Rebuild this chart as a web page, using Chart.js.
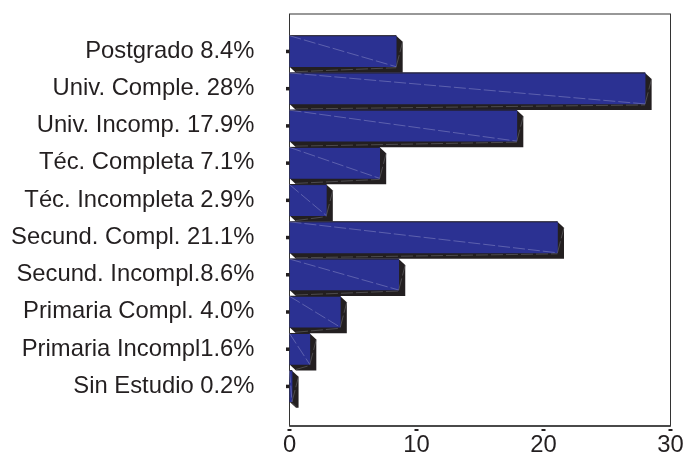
<!DOCTYPE html>
<html>
<head>
<meta charset="utf-8">
<script src="https://cdn.jsdelivr.net/npm/chart.js@4"></script>
<style>
html, body { margin: 0; padding: 0; background: #fff; }
#wrap { width: 685px; height: 452px; }
</style>
</head>
<body>
<div id="wrap"><canvas id="chart" width="685" height="452"></canvas></div>
<script>
const categories = ['Postgrado 8.4%', 'Univ. Comple. 28%', 'Univ. Incomp. 17.9%', 'Téc. Completa 7.1%', 'Téc. Incompleta 2.9%',
    'Secund. Compl. 21.1%', 'Secund. Incompl.8.6%', 'Primaria Compl. 4.0%', 'Primaria Incompl1.6%', 'Sin Estudio 0.2%'];
const values = [8.4, 28, 17.9, 7.1, 2.9, 21.1, 8.6, 4.0, 1.6, 0.2];
const xTicks = [0, 10, 20, 30];

const DEPTH_X = 6.5;
const DEPTH_Y = 6;
const DARK = '#231f20';

// Extruded sides, face diagonals and the detached tick marks
const bars3d = {
    id: 'bars3d',
    beforeDatasetsDraw(chart) {
        const ctx = chart.ctx;
        chart.getDatasetMeta(0).data.forEach(bar => {
            const left = bar.base, right = bar.x;
            const top = bar.y - bar.height / 2, bottom = bar.y + bar.height / 2;
            ctx.fillStyle = DARK;
            ctx.beginPath();
            ctx.moveTo(left, bottom);
            ctx.lineTo(left + DEPTH_X, bottom + DEPTH_Y);
            ctx.lineTo(right + DEPTH_X, bottom + DEPTH_Y);
            ctx.lineTo(right + DEPTH_X, top + DEPTH_Y);
            ctx.lineTo(right, top);
            ctx.closePath();
            ctx.fill();
        });
    },
    afterDatasetsDraw(chart) {
        const ctx = chart.ctx;
        chart.getDatasetMeta(0).data.forEach(bar => {
            const left = bar.base, right = bar.x;
            const top = bar.y - bar.height / 2, bottom = bar.y + bar.height / 2;
            ctx.lineWidth = 1;
            ctx.strokeStyle = DARK;
            ctx.beginPath();
            ctx.moveTo(left, top);
            ctx.lineTo(right, top);
            ctx.stroke();
            ctx.save();
            ctx.setLineDash([12, 3]);
            ctx.lineWidth = 0.5;
            ctx.strokeStyle = '#8f90c8';
            ctx.beginPath();
            ctx.moveTo(left, top);
            ctx.lineTo(right, bottom);
            ctx.stroke();
            ctx.strokeStyle = '#77777a';
            ctx.beginPath();
            ctx.moveTo(right, bottom);
            ctx.lineTo(right + DEPTH_X, top + DEPTH_Y);
            ctx.moveTo(left + DEPTH_X, bottom + DEPTH_Y - 1);
            ctx.lineTo(right, bottom + 1);
            ctx.stroke();
            ctx.restore();
        });

        // tick marks
        ctx.fillStyle = DARK;
        const yScale = chart.scales.y, xScale = chart.scales.x;
        categories.forEach((c, i) => {
            ctx.fillRect(yScale.right - 3.5, yScale.getPixelForValue(i + 1) - 1.5, 3.5, 3.5);
        });
        xTicks.forEach(v => {
            ctx.fillRect(xScale.getPixelForValue(v) - 2, xScale.top + 3, 4, 2);
        });
    }
};

new Chart(document.getElementById('chart'), {
    type: 'bar',
    data: {
        datasets: [{
            data: categories.map((c, i) => ({ x: values[i], y: i + 1 })),
            backgroundColor: '#2b3192',
            borderWidth: 0,
            barThickness: 31
        }]
    },
    options: {
        indexAxis: 'y',
        responsive: false,
        animation: false,
        layout: { padding: { top: 14, right: 14.5, left: 0, bottom: 0 } },
        plugins: { legend: { display: false }, tooltip: { enabled: false } },
        scales: {
            x: {
                type: 'linear',
                min: 0,
                max: 30,
                afterFit(scale) { scale.height = 26; scale.paddingLeft = 0; scale.paddingRight = 0; },
                afterBuildTicks(scale) { scale.ticks = xTicks.map(v => ({ value: v })); },
                grid: { display: false, drawTicks: false },
                border: { display: false },
                ticks: { color: DARK, font: { family: '"Liberation Sans"', size: 23.8 }, padding: 5, maxRotation: 0 }
            },
            y: {
                type: 'linear',
                reverse: true,
                offset: false,
                min: 0,
                max: 11.07,
                afterFit(scale) { scale.width = 289.5; scale.paddingTop = 0; scale.paddingBottom = 0; },
                grid: { display: false, drawTicks: false },
                border: { display: false },
                ticks: {
                    stepSize: 1,
                    autoSkip: false,
                    color: DARK,
                    font: { family: '"Liberation Sans"', size: 23.8 },
                    padding: 35,
                    callback: v => categories[v - 1] || ''
                }
            }
        }
    },
    plugins: [bars3d, {
        id: 'frame',
        beforeDraw(chart) {
            const { left, right, top, bottom } = chart.chartArea;
            const ctx = chart.ctx;
            ctx.strokeStyle = '#333333';
            ctx.lineWidth = 1;
            ctx.strokeRect(left, top, right - left, bottom - top);
            ctx.lineWidth = 2;
            ctx.strokeStyle = '#4a4a4a';
            ctx.beginPath();
            ctx.moveTo(left, bottom);
            ctx.lineTo(right, bottom);
            ctx.stroke();
        }
    }]
});
</script>
</body>
</html>
